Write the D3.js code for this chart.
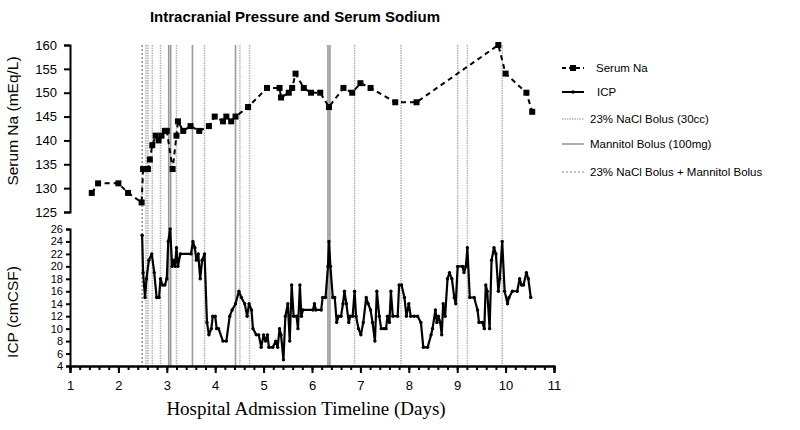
<!DOCTYPE html>
<html>
<head>
<meta charset="utf-8">
<script src="https://cdn.jsdelivr.net/npm/d3@7"></script>
<style>
  body { margin: 0; background: #fff; }
  svg { display: block; font-family: "Liberation Sans", Arial, sans-serif; }
  .axis path, .axis line { stroke: #000; stroke-width: 2; }
  .axis text { fill: #000; }
</style>
</head>
<body>
<div class="container"></div>
<script>
const w = 800;
const h = 430;

// Serum sodium readings [day, mEq/L]
const naData = [
  [1.45, 129], [1.58, 131], [2.0, 131], [2.2, 129], [2.48, 127], [2.51, 134], [2.61, 134],
  [2.65, 136], [2.70, 139], [2.77, 141], [2.83, 140], [2.89, 141], [2.96, 142], [3.0, 142],
  [3.12, 134], [3.2, 141], [3.23, 144], [3.34, 142], [3.49, 143], [3.67, 142], [3.87, 143],
  [3.99, 145], [4.16, 144], [4.23, 145], [4.33, 144], [4.42, 145], [4.68, 147], [5.07, 151],
  [5.33, 151], [5.36, 149], [5.52, 150], [5.59, 151], [5.66, 154], [5.83, 151], [5.98, 150],
  [6.17, 150], [6.35, 147], [6.65, 151], [6.83, 150], [7.0, 152], [7.21, 151], [7.72, 148],
  [8.16, 148], [9.85, 160], [10.0, 154], [10.43, 150], [10.55, 146]
];

// ICP readings [day, cmCSF]
const icpData = [
  [2.49, 25], [2.51, 19], [2.55, 15], [2.58, 18], [2.63, 21], [2.69, 22], [2.74, 19], [2.79, 15],
  [2.84, 15], [2.87, 18], [2.91, 17], [2.96, 17], [3.0, 18], [3.03, 24], [3.07, 26], [3.11, 20],
  [3.14, 21], [3.17, 20], [3.2, 23], [3.23, 20], [3.28, 22], [3.5, 22], [3.54, 24], [3.58, 23],
  [3.61, 21], [3.65, 22], [3.69, 18], [3.73, 21], [3.78, 22], [3.83, 11], [3.87, 9], [3.92, 10],
  [3.95, 12], [4.0, 12], [4.03, 10], [4.07, 10], [4.16, 8], [4.23, 8], [4.3, 12], [4.35, 13],
  [4.42, 14], [4.49, 16], [4.54, 15], [4.61, 14], [4.66, 12], [4.7, 14], [4.75, 13], [4.78, 10],
  [4.85, 9], [4.9, 9], [4.95, 7], [5.0, 9], [5.04, 8], [5.08, 9], [5.11, 7], [5.19, 7],
  [5.25, 8], [5.29, 7], [5.33, 10], [5.36, 9], [5.41, 5], [5.45, 12], [5.5, 14], [5.54, 8],
  [5.58, 17], [5.62, 12], [5.68, 12], [5.71, 10], [5.75, 17], [5.78, 12], [5.81, 13], [6.02, 13],
  [6.05, 14], [6.08, 13], [6.19, 13], [6.22, 15], [6.28, 15], [6.33, 20], [6.35, 24], [6.38, 20],
  [6.43, 15], [6.47, 15], [6.51, 11], [6.55, 12], [6.6, 12], [6.64, 14], [6.67, 16], [6.71, 14],
  [6.76, 11], [6.79, 12], [6.84, 12], [6.88, 16], [6.91, 12], [6.96, 10], [7.01, 9], [7.06, 11],
  [7.12, 15], [7.16, 14], [7.21, 13], [7.25, 11], [7.3, 8], [7.34, 16], [7.39, 12], [7.43, 10],
  [7.49, 10], [7.53, 10], [7.56, 12], [7.6, 11], [7.63, 16], [7.67, 12], [7.77, 12], [7.8, 17],
  [7.85, 17], [7.91, 15], [7.95, 12], [8.0, 14], [8.04, 12], [8.11, 12], [8.18, 12], [8.25, 11],
  [8.3, 7], [8.39, 7], [8.46, 9], [8.49, 10], [8.55, 13], [8.58, 11], [8.61, 12], [8.65, 11],
  [8.68, 9], [8.71, 14], [8.75, 12], [8.8, 18], [8.84, 19], [8.89, 18], [8.94, 15], [8.97, 14],
  [9.01, 20], [9.11, 20], [9.14, 19], [9.18, 20], [9.21, 23], [9.26, 15], [9.35, 15], [9.42, 13],
  [9.45, 11], [9.52, 11], [9.56, 10], [9.59, 17], [9.62, 16], [9.67, 10], [9.71, 21], [9.76, 23],
  [9.8, 22], [9.85, 16], [9.88, 18], [9.93, 24], [9.98, 16], [10.04, 14], [10.07, 15], [10.14, 16],
  [10.24, 16], [10.29, 18], [10.33, 17], [10.37, 17], [10.43, 19], [10.47, 18], [10.52, 15]
];

// Bolus times (days)
const naclDays = [2.57, 2.61, 2.70, 2.87, 3.20, 3.78, 4.51, 4.71, 6.88, 7.84, 9.01, 9.21, 9.93];
const mannitolDays = [3.04, 3.08, 3.53, 4.42, 6.33, 6.37];
const comboDays = [2.49];

const xTicks = d3.range(1, 12);
const naTicks = [125, 130, 135, 140, 145, 150, 155, 160];
const icpTicks = d3.range(4, 27, 2);
const legendLabels = ['Serum Na', 'ICP', '23% NaCl Bolus (30cc)', 'Mannitol Bolus (100mg)', '23% NaCl Bolus + Mannitol Bolus'];

const svg = d3.select('.container')
  .append('svg')
  .attr('width', w)
  .attr('height', h);

const xScale = d3.scaleLinear().domain([1, 11]).range([70, 554]);
const yNa = d3.scaleLinear().domain([125, 160]).range([212, 45]);
const yIcp = d3.scaleLinear().domain([4, 26]).range([366, 229]);

// Bolus lines across both panels
const bolusStyles = [
  { days: naclDays, stroke: '#b4b4b4', width: 1.5, dash: '1.5,1' },
  { days: mannitolDays, stroke: '#999', width: 1.6, dash: null },
  { days: comboDays, stroke: '#555', width: 1, dash: '2,2' }
];
bolusStyles.forEach((s) => {
  svg.selectAll(null)
    .data(s.days)
    .enter()
    .append('line')
    .attr('x1', (d) => xScale(d))
    .attr('x2', (d) => xScale(d))
    .attr('y1', yNa(160))
    .attr('y2', yIcp(4))
    .attr('stroke', s.stroke)
    .attr('stroke-width', s.width)
    .attr('stroke-dasharray', s.dash);
});

// Serum Na line
const naLine = d3.line().x((d) => xScale(d[0])).y((d) => yNa(d[1]));
svg.append('path')
  .datum(naData)
  .attr('d', naLine)
  .attr('fill', 'none')
  .attr('stroke', '#000')
  .attr('stroke-width', 2)
  .attr('stroke-dasharray', '5,4');
svg.selectAll('.na-pt')
  .data(naData)
  .enter()
  .append('rect')
  .attr('class', 'na-pt')
  .attr('x', (d) => xScale(d[0]) - 3)
  .attr('y', (d) => yNa(d[1]) - 3)
  .attr('width', 6)
  .attr('height', 6)
  .attr('fill', '#000');

// ICP line
const icpLine = d3.line().x((d) => xScale(d[0])).y((d) => yIcp(d[1]));
svg.append('path')
  .datum(icpData)
  .attr('d', icpLine)
  .attr('fill', 'none')
  .attr('stroke', '#000')
  .attr('stroke-width', 2.2)
  .attr('stroke-linejoin', 'round');
svg.selectAll('.icp-pt')
  .data(icpData)
  .enter()
  .append('circle')
  .attr('class', 'icp-pt')
  .attr('cx', (d) => xScale(d[0]))
  .attr('cy', (d) => yIcp(d[1]))
  .attr('r', 1.7)
  .attr('fill', '#000');

// Axes
svg.append('g')
  .attr('class', 'axis')
  .attr('transform', 'translate(70,0)')
  .call(d3.axisLeft(yNa).tickValues(naTicks).tickSize(6).tickPadding(7))
  .selectAll('text').style('font-size', '13px');

svg.append('g')
  .attr('class', 'axis')
  .attr('transform', 'translate(70,0)')
  .call(d3.axisLeft(yIcp).tickValues(icpTicks).tickSize(4).tickPadding(3))
  .selectAll('text').style('font-size', '11px');

svg.append('g')
  .attr('class', 'axis')
  .attr('transform', 'translate(0,366)')
  .call(d3.axisBottom(xScale).tickValues(d3.range(1, 11.01, 0.2)).tickSize(4).tickFormat(''));

svg.append('g')
  .attr('class', 'axis')
  .attr('transform', 'translate(0,366)')
  .call(d3.axisBottom(xScale).tickValues(xTicks).tickSize(7).tickPadding(8).tickFormat(d3.format('d')))
  .selectAll('text').style('font-size', '13px');

// Titles
svg.append('text')
  .attr('x', 295)
  .attr('y', 22)
  .attr('text-anchor', 'middle')
  .style('font-size', '15px')
  .style('font-weight', 'bold')
  .text('Intracranial Pressure and Serum Sodium');

svg.append('text')
  .attr('transform', 'rotate(-90)')
  .attr('x', -121)
  .attr('y', 18)
  .attr('text-anchor', 'middle')
  .style('font-size', '15.5px')
  .text('Serum Na (mEq/L)');

svg.append('text')
  .attr('transform', 'rotate(-90)')
  .attr('x', -312)
  .attr('y', 18)
  .attr('text-anchor', 'middle')
  .style('font-size', '15.5px')
  .text('ICP (cmCSF)');

svg.append('text')
  .attr('x', 306)
  .attr('y', 415)
  .attr('text-anchor', 'middle')
  .style('font-family', '"Liberation Serif", "Times New Roman", serif')
  .style('font-size', '19px')
  .text('Hospital Admission Timeline (Days)');

// Legend
const legendY = [68, 92, 119, 144, 172];
const legendTextX = [596, 597, 590, 590, 590];
const legend = svg.selectAll('.legend')
  .data(legendLabels)
  .enter()
  .append('g')
  .attr('class', 'legend')
  .attr('transform', (d, i) => 'translate(0,' + legendY[i] + ')');

legend.append('line')
  .attr('x1', 562)
  .attr('x2', 584)
  .attr('stroke', (d, i) => ['#000', '#000', '#b4b4b4', '#999', '#888'][i])
  .attr('stroke-width', (d, i) => [2, 2, 1.5, 1.6, 1][i])
  .attr('stroke-dasharray', (d, i) => ['4,3', null, '1.5,1', null, '2,2'][i]);

legend.filter((d, i) => i === 0)
  .append('rect')
  .attr('x', 570)
  .attr('y', -3)
  .attr('width', 6)
  .attr('height', 6)
  .attr('fill', '#000');

legend.filter((d, i) => i === 1)
  .append('circle')
  .attr('cx', 573)
  .attr('r', 1.8)
  .attr('fill', '#000');

legend.append('text')
  .attr('x', (d, i) => legendTextX[i])
  .attr('y', 4)
  .style('font-size', '11.5px')
  .text((d) => d);
</script>
</body>
</html>
